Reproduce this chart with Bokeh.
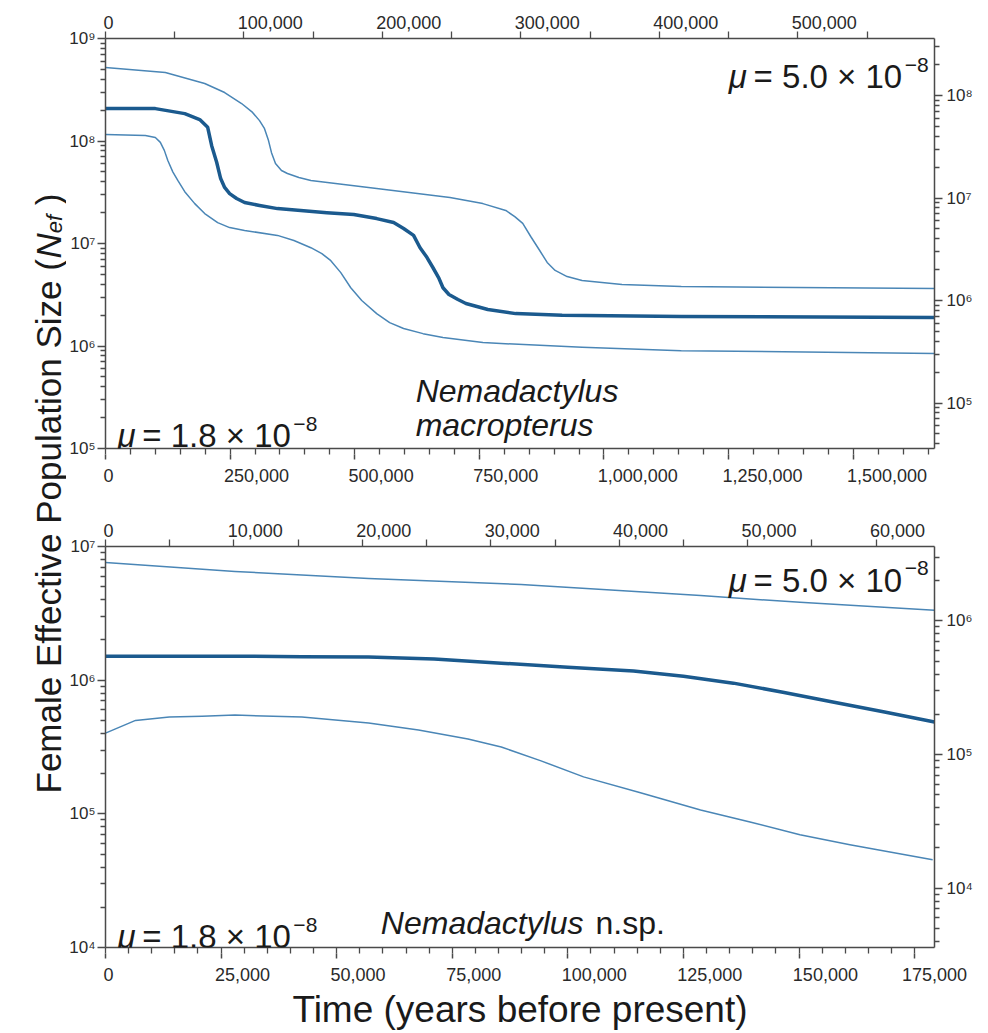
import math
from bokeh.plotting import figure
from bokeh.models import (Range1d, LinearAxis, LogAxis, FixedTicker, Label, LogScale)
from bokeh.layouts import row, column
from bokeh.embed import file_html
from bokeh.resources import INLINE

# ---------------------------------------------------------------- data
MU_LOW = 1.8e-8    # bottom / left axes
MU_HIGH = 5.0e-8   # top / right axes
SCALE = MU_LOW / MU_HIGH

# Panel A : Nemadactylus macropterus (years & Nef for mu = 1.8e-8)
a_med_t = [0, 100000, 159000, 189000, 205000, 213000, 223000, 231000, 239000, 249000,
           263000, 279000, 309000, 345000, 444000, 498000, 544000, 578000, 598000,
           618000, 631000, 645000, 657000, 669000, 677000, 689000, 707000, 723000,
           767000, 823000, 916000, 1155000, 1663000]
a_med_n = [2.07e8, 2.07e8, 1.85e8, 1.62e8, 1.36e8, 9.0e7, 6.2e7, 4.3e7, 3.52e7, 3.07e7,
           2.75e7, 2.51e7, 2.35e7, 2.19e7, 2.0e7, 1.92e7, 1.75e7, 1.6e7, 1.40e7,
           1.2e7, 9.1e6, 7.3e6, 5.8e6, 4.56e6, 3.7e6, 3.18e6, 2.84e6, 2.6e6,
           2.27e6, 2.07e6, 1.99e6, 1.94e6, 1.90e6]

a_hi_t = [0, 120000, 199000, 239000, 273000, 295000, 309000, 319000, 327000, 333000,
          341000, 353000, 365000, 388000, 412000, 478000, 544000, 691000, 757000,
          803000, 821000, 837000, 853000, 871000, 886000, 902000, 926000, 956000,
          1036000, 1155000, 1663000]
a_hi_n = [5.2e8, 4.66e8, 3.64e8, 2.97e8, 2.32e8, 1.9e8, 1.58e8, 1.32e8, 1.01e8, 7.7e7,
          6.03e7, 5.15e7, 4.82e7, 4.4e7, 4.12e7, 3.77e7, 3.44e7, 2.81e7, 2.45e7,
          2.1e7, 1.83e7, 1.57e7, 1.17e7, 8.55e6, 6.53e6, 5.46e6, 4.76e6, 4.36e6,
          3.98e6, 3.8e6, 3.64e6]

a_lo_t = [0, 80000, 100000, 110000, 118000, 125000, 135000, 145000, 159000, 179000,
          199000, 225000, 249000, 279000, 345000, 378000, 412000, 434000, 452000,
          472000, 492000, 514000, 544000, 570000, 598000, 637000, 677000, 757000,
          956000, 1155000, 1663000]
a_lo_n = [1.16e8, 1.13e8, 1.08e8, 9.7e7, 8.1e7, 6.45e7, 5.0e7, 4.12e7, 3.2e7, 2.45e7,
          1.96e7, 1.6e7, 1.43e7, 1.34e7, 1.2e7, 1.07e7, 9.1e6, 7.98e6, 6.8e6,
          5.2e6, 3.7e6, 2.78e6, 2.07e6, 1.69e6, 1.48e6, 1.32e6, 1.21e6, 1.08e6,
          9.7e5, 9.0e5, 8.45e5]

# Panel B : Nemadactylus n.sp.
b_med_t = [0, 14400, 28000, 42500, 56900, 71100, 85600, 100000, 114200, 125000,
           135800, 146500, 157300, 168500, 179300]
b_med_n = [1.51e6, 1.51e6, 1.51e6, 1.50e6, 1.49e6, 1.44e6, 1.34e6, 1.25e6, 1.17e6, 1.07e6,
           9.5e5, 8.13e5, 6.86e5, 5.77e5, 4.86e5]

b_hi_t = [0, 28000, 56900, 89900, 128700, 150200, 179300]
b_hi_n = [7.6e6, 6.5e6, 5.77e6, 5.2e6, 4.3e6, 3.82e6, 3.33e6]

b_lo_t = [0, 6500, 13800, 20900, 28000, 42500, 56900, 67700, 78400, 85600, 94200,
          103400, 115700, 128700, 139400, 150200, 161000, 178900]
b_lo_n = [4.02e5, 5.0e5, 5.3e5, 5.38e5, 5.48e5, 5.3e5, 4.78e5, 4.24e5, 3.63e5, 3.16e5, 2.49e5,
          1.89e5, 1.44e5, 1.07e5, 8.7e4, 6.97e4, 5.87e4, 4.54e4]

# axis extents and tick labels
A_XMAX = 1663000
A_YMIN, A_YMAX = 1e5, 1e9
A_BOTTOM_TICKS = [0, 250000, 500000, 750000, 1000000, 1250000, 1500000]
A_TOP_TICKS = [0, 100000, 200000, 300000, 400000, 500000]

B_XMAX = 179300
B_YMIN, B_YMAX = 1e4, 1e7
B_BOTTOM_TICKS = [0, 25000, 50000, 75000, 100000, 125000, 150000, 175000]
B_TOP_TICKS = [0, 10000, 20000, 30000, 40000, 50000, 60000]

SPECIES_A = ["Nemadactylus", "macropterus"]
SPECIES_B = ["Nemadactylus", "n.sp."]
Y_LABEL = ["Female Effective Population Size (", "N", "ef", ")"]
X_LABEL = "Time (years before present)"

# ---------------------------------------------------------------- style
FONT = "Liberation Sans"
AXIS_COLOR = "#4a4a4a"
TEXT_COLOR = "#2a2a2a"
THICK = "#1b5a8e"
THIN = "#4a86b6"
SUP = {"0": "\u2070", "1": "\u00b9", "2": "\u00b2", "3": "\u00b3", "4": "\u2074",
       "5": "\u2075", "6": "\u2076", "7": "\u2077", "8": "\u2078", "9": "\u2079"}
XT_SIZE = 18

LBL_W = 66
TOP_H = 486
BOT_H = 546
FRAME_L, FRAME_R = 101, 935
FRAME_W = FRAME_R - FRAME_L
FIG_W = FRAME_R - LBL_W + 40


def pow_label(e):
    return "10" + "".join(SUP[c] for c in str(e))


def log_ticks(lo, hi):
    e0, e1 = math.floor(math.log10(lo) + 1e-9), math.ceil(math.log10(hi) - 1e-9)
    majors, minors, over = [], [], {}
    for e in range(e0, e1 + 1):
        v = float(10 ** e)
        if lo * 0.999 <= v <= hi * 1.001:
            majors.append(v)
            over[v] = pow_label(e)
        for m in range(2, 10):
            w = float(m * 10 ** e)
            if lo <= w <= hi:
                minors.append(w)
    return majors, minors, over


def lin_minor(xmax, step):
    n = int(xmax // step)
    return [i * step for i in range(n + 1)]


def style_axis(ax, major_out, minor_out):
    ax.axis_line_color = AXIS_COLOR
    ax.axis_line_width = 1.5
    ax.major_tick_line_color = AXIS_COLOR
    ax.minor_tick_line_color = AXIS_COLOR
    ax.major_tick_line_width = 1.5
    ax.minor_tick_line_width = 1.3
    ax.major_tick_in = 0
    ax.minor_tick_in = 0
    ax.major_tick_out = major_out
    ax.minor_tick_out = minor_out
    ax.major_label_text_font = FONT
    ax.major_label_text_font_size = "17px"
    ax.major_label_text_color = TEXT_COLOR
    ax.major_label_standoff = 4


def text_width(txt, size):
    return sum(0.556 if c.isdigit() else 0.278 for c in txt) * size


def label_axis(p, ticks, range_max, range_name, side, standoff, long_ticks):
    """Axis carrying the tick labels (set slightly right of their tick, as in the
    source figure); its minor ticks extend the long major tick marks outward."""
    ax = LinearAxis(x_range_name=range_name)
    pos, over = [], {}
    for t in ticks:
        txt = "{:,}".format(t)
        off_px = max(text_width(txt, XT_SIZE) / 2 - 6, 3)
        v = min(t + off_px * range_max / FRAME_W, range_max)
        v = float(round(v, 4))
        pos.append(v)
        over[v] = txt
    ax.ticker = FixedTicker(ticks=pos, minor_ticks=list(ticks) if long_ticks else [])
    ax.major_label_overrides = over
    ax.axis_line_color = None
    ax.major_tick_line_color = None
    ax.major_tick_out = 0
    ax.major_tick_in = 0
    ax.minor_tick_line_color = AXIS_COLOR
    ax.minor_tick_line_width = 1.5
    ax.minor_tick_in = 0
    ax.minor_tick_out = long_ticks
    ax.major_label_text_font = FONT
    ax.major_label_text_font_size = "%dpx" % XT_SIZE
    ax.major_label_text_color = TEXT_COLOR
    ax.major_label_standoff = standoff
    p.add_layout(ax, side)
    return ax


def panel(width, height, borders, xmax, ymin, ymax, bot_ticks, bot_step, top_ticks, top_step):
    p = figure(width=width, height=height, x_range=Range1d(0, xmax),
               y_range=Range1d(ymin, ymax), y_axis_type="log",
               output_backend="svg", toolbar_location=None,
               min_border_left=borders[0], min_border_right=borders[1],
               min_border_top=borders[2], min_border_bottom=borders[3])
    p.grid.visible = False
    p.outline_line_color = None
    p.background_fill_color = "white"
    p.border_fill_color = "white"

    bottom_ax = p.below[0]
    left_ax = p.left[0]

    p.extra_x_ranges = {"top": Range1d(0, xmax * SCALE)}
    p.extra_y_ranges = {"right": Range1d(ymin * SCALE, ymax * SCALE)}
    p.extra_y_scales = {"right": LogScale()}
    top_ax = LinearAxis(x_range_name="top")
    right_ax = LogAxis(y_range_name="right")
    p.add_layout(top_ax, "above")
    p.add_layout(right_ax, "right")

    # tick-mark axes: every mark is a (label-less) minor tick
    bottom_ax.ticker = FixedTicker(ticks=[], minor_ticks=lin_minor(xmax, bot_step))
    style_axis(bottom_ax, 6, 6)
    top_ax.ticker = FixedTicker(ticks=[], minor_ticks=lin_minor(xmax * SCALE, top_step))
    style_axis(top_ax, 7, 7)
    bot_lab = label_axis(p, bot_ticks, xmax, "default", "below", 9, 5)
    label_axis(p, top_ticks, xmax * SCALE, "top", "above", 3, 0)

    for ax, lo, hi in ((left_ax, ymin, ymax), (right_ax, ymin * SCALE, ymax * SCALE)):
        majors, minors, over = log_ticks(lo, hi)
        ax.ticker = FixedTicker(ticks=majors, minor_ticks=minors)
        ax.major_label_overrides = over
        style_axis(ax, 8, 5)
    left_ax.major_label_standoff = 2
    right_ax.major_label_standoff = 4
    return p, bot_lab


def geom(left, right, top, bottom, xmax, ymin, ymax):
    def gx(px):
        return (px - left) / (right - left) * xmax

    def gy(py):
        l0, l1 = math.log10(ymin), math.log10(ymax)
        return 10 ** (l1 - (py - top) / (bottom - top) * (l1 - l0))
    return gx, gy


def add_text(p, x, y, text, size, style="normal", align="left", **kw):
    p.add_layout(Label(x=x, y=y, text=text, text_font=FONT, text_font_size=size,
                       text_font_style=style, text_color="#1a1a1a",
                       text_baseline="alphabetic", text_align=align, **kw))


def add_mu(p, gx, gy, px, py, val):
    add_text(p, gx(px), gy(py), "\u03bc", "33px", "italic")
    add_text(p, gx(px + 25), gy(py), "= %s \u00d7 10" % val, "33px")
    add_text(p, gx(px + 177), gy(py - 12), "\u22128", "21px")


# ---------------------------------------------------------------- layout
pa, _ = panel(FIG_W, TOP_H, (FRAME_L - LBL_W, 40, 38, TOP_H - 448), A_XMAX, A_YMIN, A_YMAX,
              A_BOTTOM_TICKS, 50000, A_TOP_TICKS, 50000)
pb, pb_lab = panel(FIG_W, BOT_H, (FRAME_L - LBL_W, 40, 546 - TOP_H, BOT_H - (546 - TOP_H) - 402),
                   B_XMAX, B_YMIN, B_YMAX, B_BOTTOM_TICKS, 5000, B_TOP_TICKS, 5000)

for t, n, c, w in ((a_hi_t, a_hi_n, THIN, 1.5), (a_lo_t, a_lo_n, THIN, 1.5),
                   (a_med_t, a_med_n, THICK, 3.5)):
    pa.line(t, n, line_color=c, line_width=w, line_join="round")
for t, n, c, w in ((b_hi_t, b_hi_n, THIN, 1.5), (b_lo_t, b_lo_n, THIN, 1.5),
                   (b_med_t, b_med_n, THICK, 3.5)):
    pb.line(t, n, line_color=c, line_width=w, line_join="round")

# x-axis title
pb_lab.axis_label = X_LABEL
pb_lab.axis_label_text_font = FONT
pb_lab.axis_label_text_font_size = "37px"
pb_lab.axis_label_text_font_style = "normal"
pb_lab.axis_label_text_color = "#1a1a1a"
pb_lab.axis_label_standoff = 5

# annotations (positions in page pixels mapped through the frame geometry)
gxa, gya = geom(FRAME_L, FRAME_R, 38, 448, A_XMAX, A_YMIN, A_YMAX)
add_mu(pa, gxa, gya, 728, 76, "5.0")
add_mu(pa, gxa, gya, 113, 435, "1.8")
add_text(pa, gxa(413), gya(390), SPECIES_A[0], "32px", "italic")
add_text(pa, gxa(413), gya(424), SPECIES_A[1], "32px", "italic")

gxb, gyb = geom(FRAME_L, FRAME_R, 546, 948, B_XMAX, B_YMIN, B_YMAX)
add_mu(pb, gxb, gyb, 728, 580, "5.0")
add_mu(pb, gxb, gyb, 113, 937, "1.8")
add_text(pb, gxb(378), gyb(923), SPECIES_B[0], "32px", "italic")
add_text(pb, gxb(594), gyb(923), SPECIES_B[1], "32px", "normal")

# shared y-axis title in its own narrow figure
H = TOP_H + BOT_H
pl = figure(width=LBL_W, height=H, x_range=Range1d(0, LBL_W), y_range=Range1d(0, H),
            output_backend="svg", toolbar_location=None,
            x_axis_location=None, y_axis_location=None,
            min_border_left=0, min_border_right=0, min_border_top=0, min_border_bottom=0)
pl.grid.visible = False
pl.outline_line_color = None
pl.border_fill_color = "white"


def ly(page_y):
    return H - page_y


FS = 35
ystart = 793
w1 = 15.284 * FS
wN = 0.722 * FS
wsub = 0.834 * 22
for txt, yy, xx, size, style in (
        (Y_LABEL[0], ystart, 48, "%dpx" % FS, "normal"),
        (Y_LABEL[1], ystart - w1, 48, "%dpx" % FS, "italic"),
        (Y_LABEL[2], ystart - w1 - wN, 54, "22px", "italic"),
        (Y_LABEL[3], ystart - w1 - wN - wsub - 0.278 * FS, 48, "%dpx" % FS, "normal")):
    pl.add_layout(Label(x=xx, y=ly(yy), text=txt, angle=math.pi / 2, text_font=FONT,
                        text_font_size=size, text_font_style=style, text_color="#1a1a1a",
                        text_baseline="alphabetic", text_align="left"))

layout = row(pl, column(pa, pb))
open("out.html", "w").write(file_html(layout, INLINE))
